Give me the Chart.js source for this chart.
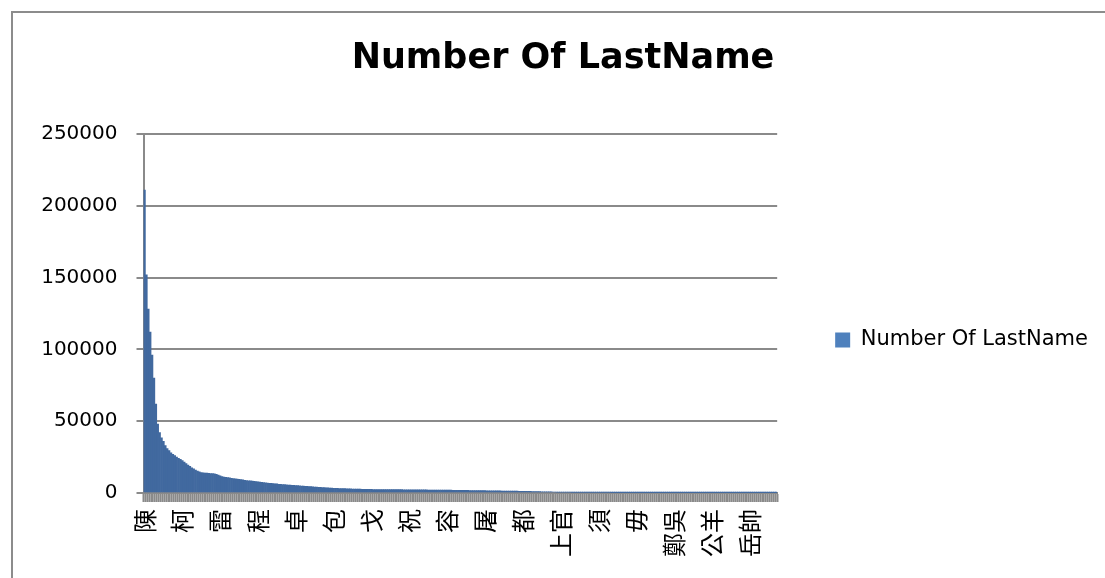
<!DOCTYPE html>
<html>
<head>
<meta charset="utf-8">
<script src="https://cdn.jsdelivr.net/npm/chart.js@4"></script>
<style>
  html, body { margin: 0; padding: 0; background: #fff; overflow: hidden; }
  #frame { position: absolute; left: 11px; top: 11px; width: 1200px; height: 700px; border: 2px solid #8c8c8c; }
  #wrap { position: absolute; left: 0; top: 0; width: 1105px; height: 578px; }
</style>
</head>
<body>
<div id="frame"></div>
<div id="wrap"><canvas id="myChart"></canvas></div>
<script>
// surnames shown on the x axis, one every labelStep bars
const surnames = ['陳', '柯', '雷', '程', '卓', '包', '戈', '祝', '容', '屠', '都', '上官', '須', '毋', '鄭吳', '公羊', '岳帥'];
const labelStep = 20;

// people per surname (ranked)
const counts = [
    211000, 152000, 128000, 112000, 96000, 80000, 62000, 48000, 42000, 38500, 36000, 33000, 31000, 29500, 28000, 27000, 26000, 25000, 24200, 23500,
    22500, 21500, 20500, 19500, 18500, 17500, 16800, 16000, 15300, 14700, 14300, 14000, 13900, 13800, 13700, 13600, 13500, 13300, 13000, 12500,
    12000, 11500, 11100, 10900, 10700, 10500, 10300, 10100, 9900, 9700, 9500, 9300, 9100, 8900, 8700, 8500, 8400, 8300, 8100, 8000,
    7800, 7600, 7400, 7300, 7100, 6900, 6800, 6700, 6500, 6400, 6300, 6100, 6000, 5900, 5800, 5700, 5600, 5500, 5400, 5300,
    5200, 5100, 5000, 4900, 4800, 4700, 4600, 4500, 4400, 4300, 4200, 4100, 4000, 3900, 3800, 3700, 3650, 3550, 3500, 3400,
    3300, 3250, 3200, 3150, 3100, 3050, 3000, 2950, 2900, 2850, 2800, 2750, 2700, 2680, 2650, 2600, 2580, 2550, 2500, 2480,
    2470, 2460, 2450, 2440, 2430, 2420, 2410, 2400, 2390, 2380, 2370, 2360, 2350, 2340, 2330, 2320, 2300, 2280, 2260, 2240,
    2220, 2210, 2200, 2190, 2180, 2170, 2160, 2150, 2140, 2130, 2120, 2110, 2100, 2090, 2080, 2070, 2060, 2050, 2040, 2030,
    2000, 1980, 1960, 1940, 1920, 1900, 1880, 1860, 1840, 1820, 1800, 1780, 1760, 1740, 1720, 1700, 1680, 1660, 1640, 1620,
    1600, 1580, 1560, 1540, 1520, 1500, 1480, 1460, 1440, 1420, 1400, 1380, 1360, 1340, 1320, 1300, 1280, 1260, 1240, 1220,
    1200, 1170, 1140, 1110, 1080, 1050, 1020, 990, 960, 930, 900, 870, 840, 810, 780, 750, 720, 690, 660, 630,
    600, 580, 560, 540, 520, 500, 490, 480, 470, 460, 450, 440, 430, 420, 410, 400, 390, 380, 370, 360,
    350, 345, 340, 335, 330, 325, 320, 315, 310, 305, 300, 295, 290, 285, 280, 275, 270, 265, 260, 255,
    250, 246, 242, 238, 234, 230, 226, 222, 218, 214, 210, 206, 202, 198, 194, 190, 186, 182, 178, 174,
    170, 166, 162, 158, 154, 150, 147, 144, 141, 138, 135, 132, 129, 126, 123, 120, 117, 114, 111, 108,
    105, 102, 100, 98, 96, 94, 92, 90, 88, 86, 84, 82, 80, 78, 76, 74, 72, 70, 68, 66,
    64, 62, 60, 58, 56, 54, 52, 50, 48, 46, 44, 42, 40, 38, 36
];

const yTicks = [0, 50000, 100000, 150000, 200000, 250000];

const categories = counts.map((v, i) => (i % labelStep === 0 ? (surnames[i / labelStep] || '') : ''));

const gray = '#8a8a8a';
const ctx = document.getElementById('myChart').getContext('2d');

const myChart = new Chart(ctx, {
    type: 'bar',
    data: {
        labels: categories,
        datasets: [{
            label: 'Number Of LastName',
            data: counts,
            backgroundColor: '#41699f',
            borderWidth: 0,
            barPercentage: 1,
            categoryPercentage: 1
        }]
    },
    options: {
        responsive: true,
        maintainAspectRatio: false,
        animation: false,
        devicePixelRatio: 1,
        layout: { padding: { left: 28, right: 7, top: 0, bottom: 0 } },
        plugins: {
            title: {
                display: true,
                text: 'Number Of LastName',
                color: '#000',
                font: { family: 'DejaVu Sans', size: 35, weight: 'bold' },
                padding: { top: 38, bottom: 54 }
            },
            legend: {
                position: 'right',
                align: 'start',
                maxWidth: 500,
                title: { display: true, text: '', font: { size: 12 }, padding: { top: 257, bottom: 0 } },
                labels: {
                    color: '#000',
                    font: { family: 'DejaVu Sans', size: 21 },
                    boxWidth: 15,
                    boxHeight: 15,
                    padding: 58,
                    generateLabels: chart => chart.data.datasets.map((ds, i) => ({
                        text: ds.label,
                        fillStyle: '#4f81bd',
                        strokeStyle: '#4f81bd',
                        fontColor: '#000',
                        lineWidth: 0,
                        hidden: false,
                        datasetIndex: i
                    }))
                }
            },
            tooltip: { enabled: false }
        },
        scales: {
            x: {
                afterFit: scale => { scale.height = 85; },
                border: { display: true, color: gray, width: 2 },
                grid: { drawOnChartArea: false, drawTicks: true, tickLength: 9, tickColor: gray, tickWidth: 2 },
                ticks: {
                    autoSkip: false,
                    minRotation: 90,
                    maxRotation: 90,
                    padding: 7,
                    color: '#000',
                    font: { family: 'Noto Sans CJK TC', size: 24 }
                }
            },
            y: {
                min: 0,
                max: 250000,
                afterFit: scale => { scale.width = 115.5; },
                afterBuildTicks: scale => { scale.ticks = yTicks.map(v => ({ value: v })); },
                border: { display: true, color: gray, width: 2 },
                grid: { color: gray, lineWidth: 2, tickLength: 7, tickColor: gray, tickWidth: 2 },
                ticks: {
                    padding: 19,
                    color: '#000',
                    font: { family: 'DejaVu Sans', size: 20 },
                    callback: value => String(value)
                }
            }
        }
    }
});
</script>
</body>
</html>
